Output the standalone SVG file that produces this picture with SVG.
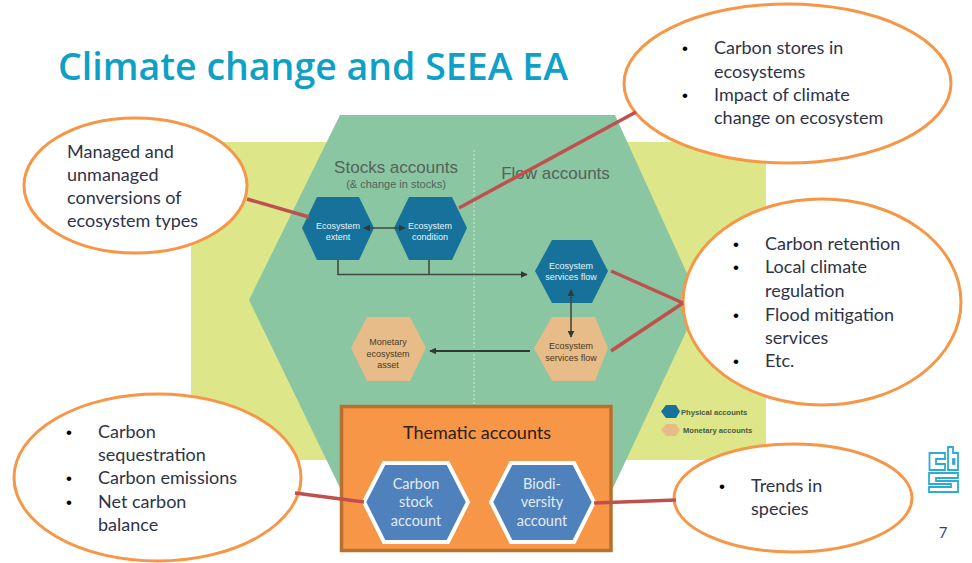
<svg xmlns="http://www.w3.org/2000/svg" width="972" height="563" viewBox="0 0 972 563">
<style>
.c{fill:#fff;stroke:#f79646;stroke-width:3}
.t{font-family:Lato,"Liberation Sans",sans-serif;font-size:18px;fill:#2f3348}
.b{font-family:"Liberation Sans",sans-serif;font-size:17px;fill:#000}
.g{font-family:"Liberation Sans",sans-serif;fill:#55625b}
.n{font-family:"Liberation Sans",sans-serif;font-size:9px;text-anchor:middle}
.w{fill:#e8f4f8}.k{fill:#4a3a20}
.red{stroke:#c0504d;stroke-width:3.500;fill:none}
.l{stroke:#3f4a42;stroke-width:1.600;fill:none}
.d{stroke:#2f3a34;stroke-width:2;fill:none}
.phys{fill:#17729b}.mon{fill:#e8bc88}
.blue{fill:#4f81bd;stroke:#fff;stroke-width:4}
.e{font-family:Lato,"Liberation Sans",sans-serif;font-size:14.500px;fill:#e4ebf5;text-anchor:middle}
.lg{font-family:"Liberation Sans",sans-serif;font-size:7.600px;font-weight:bold;fill:#4a5a40}
</style>
<defs>
<marker id="ah" viewBox="0 0 10 10" refX="9" refY="5" markerUnits="userSpaceOnUse" markerWidth="7" markerHeight="7" orient="auto-start-reverse"><path d="M0 0L10 5L0 10Z" fill="#2f3a34"/></marker>
</defs>
<rect width="972" height="563" fill="#fff"/>
<text x="58" y="80" font-family="'Open Sans','Liberation Sans',sans-serif" font-size="37.500" font-weight="600" fill="#0ea0c6">Climate change and SEEA EA</text>
<g id="background">
<rect x="191" y="142" width="575" height="318" fill="#dde688"/>
<path d="M340 115H615L700 302L613 488H340L249 300Z" fill="#8ac6a2"/>
<path d="M474 150V405" stroke="#cfe6d8" stroke-width="1" stroke-dasharray="2 2"/>
<text class="g" x="396" y="173" font-size="17" text-anchor="middle">Stocks accounts</text>
<text class="g" x="396" y="188" font-size="11" text-anchor="middle">(&amp; change in stocks)</text>
<text class="g" x="555.500" y="179" font-size="17" text-anchor="middle">Flow accounts</text>
</g>
<g id="ecosystem-extent"><path class="phys" d="M317 197H359L374 228L359 260H317L302 228Z"/><text class="n w" x="338" y="229">Ecosystem</text><text class="n w" x="338" y="240">extent</text></g>
<g id="ecosystem-condition"><path class="phys" d="M409 197H452L467 228L452 260H409L394 228Z"/><text class="n w" x="430" y="229">Ecosystem</text><text class="n w" x="430" y="240">condition</text></g>
<g id="services-physical"><path class="phys" d="M552 240H592L608 271L592 303H552L535 271Z"/><text class="n w" x="571" y="269">Ecosystem</text><text class="n w" x="571" y="280">services flow</text></g>
<g id="services-monetary"><path class="mon" d="M552 317H595L608 348L595 381H552L534 348Z"/><text class="n k" x="571" y="349">Ecosystem</text><text class="n k" x="571" y="361">services flow</text></g>
<g id="monetary-asset"><path class="mon" d="M367 317H410L426 348L410 381H367L351 348Z"/><text class="n k" x="388" y="345">Monetary</text><text class="n k" x="388" y="357">ecosystem</text><text class="n k" x="388" y="368">asset</text></g>
<g id="legend">
<path class="phys" d="M666 405H676L680 411.500L676 418H666L661 411.500Z"/><text class="lg" x="681" y="415">Physical accounts</text>
<path class="mon" d="M666 424H676L680 430L676 436H666L661 430Z"/><text class="lg" x="683" y="433">Monetary accounts</text>
</g>
<g id="thematic">
<rect x="341.500" y="406.500" width="269.500" height="144" fill="#f79646" stroke="#b8702f" stroke-width="3.500"/>
<text x="477" y="439" text-anchor="middle" font-family="Lato,'Liberation Sans',sans-serif" font-size="18" fill="#2b2018">Thematic accounts</text>
</g>
<g id="carbon-stock"><path class="blue" d="M384 463H448L468 502L448 542H384L364 502Z"/><text class="e" x="416" y="489">Carbon</text><text class="e" x="416" y="507">stock</text><text class="e" x="416" y="526">account</text></g>
<g id="biodiversity"><path class="blue" d="M511 463H574L594 502L574 542H511L491 502Z"/><text class="e" x="542" y="489">Biodi-</text><text class="e" x="542" y="507">versity</text><text class="e" x="542" y="526">account</text></g>
<g id="note-conversions"><ellipse class="c" cx="135.500" cy="185.500" rx="111.500" ry="67.500"/><text class="t" x="67" y="158">Managed and</text><text class="t" x="67" y="181">unmanaged</text><text class="t" x="67" y="204">conversions of</text><text class="t" x="67" y="227">ecosystem types</text></g>
<g id="note-stores"><ellipse class="c" cx="787.500" cy="83.500" rx="163.500" ry="79.500"/><text class="b" x="682" y="54">•</text><text class="t" x="714" y="54">Carbon stores in</text><text class="t" x="714" y="78">ecosystems</text><text class="b" x="682" y="101">•</text><text class="t" x="714" y="101">Impact of climate</text><text class="t" x="714" y="124">change on ecosystem</text></g>
<g id="note-retention"><ellipse class="c" cx="822" cy="302" rx="139" ry="103"/><text class="b" x="733" y="250">•</text><text class="t" x="765" y="250">Carbon retention</text><text class="b" x="733" y="273">•</text><text class="t" x="765" y="273">Local climate</text><text class="t" x="765" y="297">regulation</text><text class="b" x="733" y="321">•</text><text class="t" x="765" y="321">Flood mitigation</text><text class="t" x="765" y="344">services</text><text class="b" x="733" y="367">•</text><text class="t" x="765" y="367">Etc.</text></g>
<g id="note-sequestration"><ellipse class="c" cx="157.500" cy="477.500" rx="143.500" ry="83.500"/><text class="b" x="66" y="438">•</text><text class="t" x="98" y="438">Carbon</text><text class="t" x="98" y="461">sequestration</text><text class="b" x="66" y="484">•</text><text class="t" x="98" y="484">Carbon emissions</text><text class="b" x="66" y="508">•</text><text class="t" x="98" y="508">Net carbon</text><text class="t" x="98" y="531">balance</text></g>
<g id="note-species"><ellipse class="c" cx="793" cy="498" rx="119" ry="54"/><text class="b" x="719" y="492">•</text><text class="t" x="751" y="492">Trends in</text><text class="t" x="751" y="515">species</text></g>
<g id="connectors">
<path class="l" d="M338 260V274.500H527" marker-end="url(#ah)"/>
<path class="l" d="M429 260V274.500"/>
<path class="l" d="M364 228H405" marker-start="url(#ah)" marker-end="url(#ah)"/>
<path class="l" d="M571 290V337" marker-start="url(#ah)" marker-end="url(#ah)"/>
<path class="d" d="M530 351H430" marker-end="url(#ah)"/>
<path class="red" d="M247 199L309 217"/>
<path class="red" d="M459 208L636 112"/>
<path class="red" d="M611 271L683 303"/>
<path class="red" d="M611 351L683 303"/>
<path class="red" d="M295 493L364 502"/>
<path class="red" d="M594 503L676 500"/>
</g>
<g id="logo" fill="none" stroke="#2eaad8" stroke-width="1.800"><path d="M945 453H929.500V470H945V464H936V459H945Z"/><path d="M948 447H953V453H958V470H948Z"/><path d="M953 459H954.500V464H953Z"/><path d="M958 473H929V484H951V487H929V492H958V481H936V478H958Z"/></g>
<text x="943" y="538" text-anchor="middle" font-family="Lato,'Liberation Sans',sans-serif" font-size="15" fill="#3a3a8c">7</text>
</svg>
